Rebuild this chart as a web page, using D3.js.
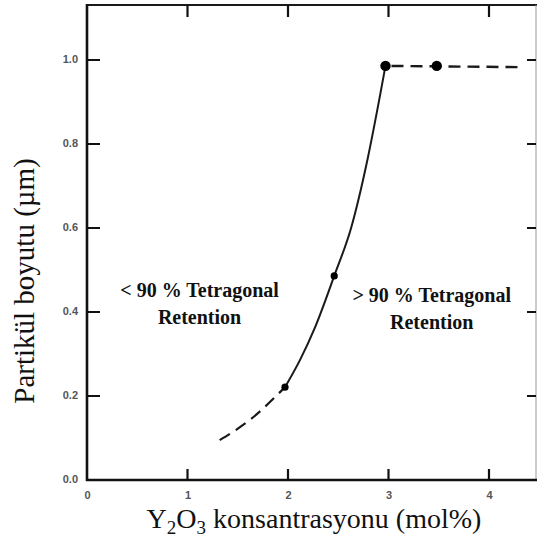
<!DOCTYPE html>
<html>
<head>
<meta charset="utf-8">
<script src="https://cdn.jsdelivr.net/npm/d3@7"></script>
<style>
  html, body { margin: 0; padding: 0; background: #fff; }
  svg { display: block; }
</style>
</head>
<body>
<svg id="chart" width="537" height="539"></svg>
<script>
// ---- data ----
const xTicks = [0, 1, 2, 3, 4];
const yTicks = [0.0, 0.2, 0.4, 0.6, 0.8, 1.0];
const pointX = [1.97, 2.46, 2.97, 3.48];
const pointY = [0.221, 0.486, 0.986, 0.986];
const pointSize = ["small", "small", "large", "large"];
const solidCurve = [[1.97, 0.221], [2.12, 0.286], [2.27, 0.364], [2.46, 0.486], [2.63, 0.602], [2.79, 0.762], [2.92, 0.921], [2.97, 0.986]];
const lowerDashed = [[1.32, 0.095], [1.62, 0.143], [1.97, 0.221]];
const upperDashed = [[2.97, 0.986], [4.32, 0.983]];
const regionLabels = [
  { lines: ["< 90 % Tetragonal", "Retention"], x: 1.12, y: 0.435 },
  { lines: ["> 90 % Tetragonal", "Retention"], x: 3.43, y: 0.423 }
];
const xTitle = ["Y", "2", "O", "3", " konsantrasyonu (mol%)"];
const yTitle = "Partikül boyutu (µm)";

// ---- layout ----
const svg = d3.select("#chart");
const L = 87, R = 536, T = 5, B = 480;
const x = d3.scaleLinear().domain([0, 4]).range([87, 489]);
const y = d3.scaleLinear().domain([0, 1]).range([480, 60]);
const ink = "#1a1a1a";

// frame lines
svg.append("line").attr("x1", L).attr("x2", 537).attr("y1", T).attr("y2", T)
  .attr("stroke", ink).attr("stroke-width", 2);
svg.append("line").attr("x1", R).attr("x2", R).attr("y1", T).attr("y2", B)
  .attr("stroke", "#999").attr("stroke-width", 1);
svg.append("line").attr("x1", L).attr("x2", L).attr("y1", T - 1).attr("y2", B + 1)
  .attr("stroke", "#111").attr("stroke-width", 2.6);
svg.append("line").attr("x1", L - 1).attr("x2", 537).attr("y1", B).attr("y2", B)
  .attr("stroke", "#111").attr("stroke-width", 2.6);

// inward tick marks from the scales (one path)
let tp = d3.path();
xTicks.filter(d => d > 0).forEach(d => {
  tp.moveTo(x(d), B); tp.lineTo(x(d), B - 11);
  tp.moveTo(x(d), T); tp.lineTo(x(d), T + 12);
});
yTicks.filter(d => d > 0).forEach(d => {
  tp.moveTo(L, y(d)); tp.lineTo(L + 13, y(d));
  tp.moveTo(R, y(d)); tp.lineTo(R - 9, y(d));
});
svg.append("path").attr("d", tp.toString()).attr("fill", "none")
  .attr("stroke", "#111").attr("stroke-width", 2.2);

// tick labels via axes
const labelFont = g => g.selectAll(".tick text")
  .attr("font-family", "Liberation Sans, Arial, sans-serif")
  .attr("font-size", 11).attr("font-weight", "bold").attr("fill", "#555");
const gx = svg.append("g").attr("transform", `translate(0,${B})`)
  .call(d3.axisBottom(x).tickValues(xTicks).tickSize(0).tickPadding(11).tickFormat(d3.format("d")));
gx.select(".domain").remove();
gx.selectAll(".tick line").remove();
gx.call(labelFont);
const gy = svg.append("g").attr("transform", `translate(${L},0)`)
  .call(d3.axisLeft(y).tickValues(yTicks).tickSize(0).tickPadding(9).tickFormat(d3.format(".1f")));
gy.select(".domain").remove();
gy.selectAll(".tick line").remove();
gy.call(labelFont);
gy.selectAll(".tick text").attr("dy", "0.2em");

// curves
const line = d3.line().x(d => x(d[0])).y(d => y(d[1])).curve(d3.curveMonotoneX);
svg.append("path").datum(solidCurve).attr("d", line)
  .attr("fill", "none").attr("stroke", ink).attr("stroke-width", 2);
svg.append("path").datum(lowerDashed).attr("d", line)
  .attr("fill", "none").attr("stroke", ink).attr("stroke-width", 2.2)
  .attr("stroke-dasharray", "12,7");
svg.append("path").datum(upperDashed).attr("d", d3.line().x(d => x(d[0])).y(d => y(d[1])))
  .attr("fill", "none").attr("stroke", ink).attr("stroke-width", 2.4)
  .attr("stroke-dasharray", "12,7").attr("stroke-dashoffset", -6);

// points
svg.selectAll("circle.pt").data(pointX.map((v, i) => ({ x: v, y: pointY[i], s: pointSize[i] })))
  .join("circle").attr("class", "pt")
  .attr("cx", d => x(d.x)).attr("cy", d => y(d.y))
  .attr("r", d => d.s === "large" ? 5.2 : 3.6).attr("fill", "#000");

// region labels
regionLabels.forEach(lb => {
  const t = svg.append("text").attr("text-anchor", "middle")
    .attr("font-family", "Liberation Serif, 'Times New Roman', serif")
    .attr("font-weight", "bold").attr("font-size", 20).attr("fill", "#111");
  lb.lines.forEach((s, i) => {
    t.append("tspan").attr("x", x(lb.x)).attr("y", y(lb.y) + i * 27).text(s);
  });
});

// x title
const xt = svg.append("text").attr("x", 314).attr("y", 528).attr("text-anchor", "middle")
  .attr("font-family", "Liberation Serif, 'Times New Roman', serif")
  .attr("font-size", 28).attr("fill", "#111");
xTitle.forEach((s, i) => {
  const ts = xt.append("tspan").text(s);
  if (i === 1 || i === 3) ts.attr("font-size", 19).attr("dy", 6);
  else if (i === 2 || i === 4) ts.attr("dy", -6);
});

// y title
svg.append("text").attr("transform", "translate(34,281) rotate(-90)")
  .attr("text-anchor", "middle")
  .attr("font-family", "Liberation Serif, 'Times New Roman', serif")
  .attr("font-size", 29).attr("fill", "#111").text(yTitle);
</script>
</body>
</html>
